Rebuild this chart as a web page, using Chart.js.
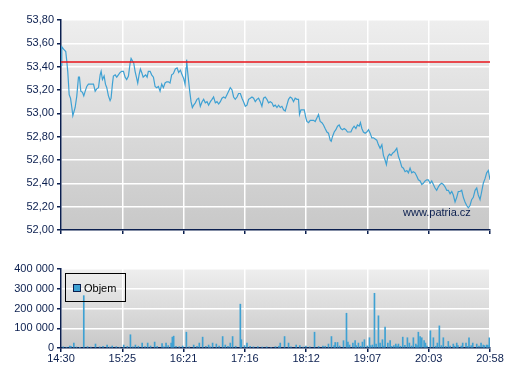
<!DOCTYPE html>
<html><head><meta charset="utf-8">
<script src="https://cdn.jsdelivr.net/npm/chart.js@4/dist/chart.umd.min.js"></script>
<style>
html,body{margin:0;padding:0;background:#ffffff;}
#wrap{position:relative;width:507px;height:380px;overflow:hidden;background:#ffffff;}
#c1{position:absolute;left:0;top:0;}
#c2{position:absolute;left:0;top:250px;}
</style></head><body>
<div id="wrap"><canvas id="c1" width="507" height="250"></canvas><canvas id="c2" width="507" height="130"></canvas></div>
<script>
// ---- data ----
const tickLabels = ["14:30","15:25","16:21","17:16","18:12","19:07","20:03","20:58"];
const sessionMinutes = 388; // 14:30 -> 20:58
const prevClose = 53.44;
const watermark = "www.patria.cz";
const legendLabel = "Objem";

const priceMinutes = [0,0.7,2.3,4.3,5.2,6.1,7.4,8.6,9.8,10.7,11.9,12.8,14.3,15.8,16.7,17.9,19.4,20.6,21.9,23.3,24.8,27.8,29.4,30.9,32.3,33.9,35.4,36.3,37.5,39.0,40.2,41.4,42.9,44.4,45.3,46.5,47.4,49.0,50.4,51.9,53.5,54.9,56.5,58.0,59.4,61.0,62.5,63.4,64.6,65.8,67.0,68.2,69.4,70.6,71.8,73.0,74.3,75.4,76.6,77.9,79.0,80.6,82.0,83.6,85.1,86.5,88.1,89.6,91.1,92.6,94.1,95.6,97.1,98.6,100.1,101.6,103.4,105.0,106.4,108.0,109.5,110.9,112.2,113.1,113.6,114.5,115.5,116.4,117.6,118.8,120.0,121.5,123.0,124.5,126.0,127.6,129.0,130.5,132.1,133.5,135.1,136.6,138.0,139.6,141.1,142.6,144.1,145.6,147.1,148.6,150.1,151.6,153.1,154.7,156.1,157.6,159.2,160.6,162.2,163.7,165.1,166.7,168.2,169.7,171.2,172.7,174.2,175.7,177.2,178.7,180.2,181.7,183.2,184.7,186.2,187.7,189.3,190.8,192.2,193.8,195.3,196.8,198.3,199.8,201.3,202.8,204.3,205.8,207.3,208.8,210.3,211.8,213.4,214.8,215.7,217.0,218.4,220.0,221.5,222.4,223.9,225.4,226.9,228.4,229.9,231.4,232.9,234.4,236.0,237.4,238.9,240.5,241.9,243.5,244.4,245.5,247.1,248.6,250.1,251.6,253.1,254.6,256.1,257.6,259.1,260.6,262.2,263.6,265.1,266.7,268.1,269.7,270.8,272.1,273.5,275.1,276.6,278.1,279.6,281.1,282.6,284.1,285.6,287.1,288.6,290.2,291.6,293.1,294.3,295.6,297.0,298.6,300.1,301.5,303.7,305.2,306.7,308.2,309.7,311.2,312.8,314.2,315.7,317.2,318.7,320.2,321.8,323.2,324.8,326.3,327.7,329.3,330.8,332.2,333.8,335.3,336.8,338.3,339.8,341.3,342.8,344.3,345.8,347.3,348.9,350.3,351.9,353.4,354.8,356.4,357.9,359.3,360.9,362.4,363.9,365.4,366.9,368.4,369.9,371.4,372.9,374.5,376.0,377.4,379.0,380.5,381.9,383.5,385.0,386.5,388.0];
const prices = [53.41,53.57,53.55,53.53,53.45,53.36,53.16,53.13,53.05,52.98,53.02,53.05,53.15,53.31,53.31,53.19,53.18,53.15,53.19,53.23,53.25,53.25,53.25,53.19,53.21,53.22,53.33,53.36,53.29,53.32,53.25,53.22,53.15,53.11,53.13,53.25,53.32,53.33,53.31,53.33,53.35,53.36,53.36,53.31,53.29,53.32,53.43,53.47,53.45,53.43,53.36,53.31,53.26,53.33,53.38,53.35,53.31,53.32,53.33,53.31,53.36,53.36,53.33,53.31,53.23,53.22,53.23,53.19,53.25,53.22,53.26,53.27,53.27,53.26,53.33,53.34,53.38,53.39,53.35,53.37,53.33,53.30,53.25,53.39,53.46,53.36,53.27,53.19,53.10,53.05,53.07,53.09,53.12,53.13,53.06,53.10,53.12,53.09,53.10,53.07,53.10,53.12,53.14,53.09,53.10,53.08,53.10,53.13,53.14,53.13,53.16,53.19,53.22,53.20,53.14,53.12,53.14,53.17,53.17,53.13,53.10,53.06,53.07,53.12,53.13,53.14,53.13,53.10,53.12,53.13,53.10,53.06,53.13,53.14,53.12,53.09,53.10,53.09,53.06,53.07,53.05,53.07,53.05,53.06,53.03,53.02,53.07,53.12,53.14,53.13,53.10,53.13,53.12,53.12,52.99,53.03,53.03,53.03,52.96,52.93,52.92,52.94,52.94,52.94,52.93,52.96,52.99,52.93,52.92,52.90,52.87,52.84,52.83,52.77,52.76,52.80,52.84,52.86,52.89,52.90,52.87,52.86,52.87,52.86,52.84,52.84,52.84,52.87,52.89,52.87,52.90,52.89,52.92,52.87,52.84,52.83,52.84,52.86,52.83,52.79,52.79,52.78,52.77,52.73,52.70,52.73,52.64,52.60,52.56,52.63,52.65,52.64,52.66,52.67,52.70,52.63,52.59,52.54,52.53,52.50,52.51,52.49,52.53,52.49,52.50,52.49,52.46,52.43,52.42,52.39,52.40,52.42,52.43,52.43,52.40,52.42,52.39,52.36,52.34,52.37,52.39,52.40,52.39,52.37,52.34,52.34,52.31,52.33,52.30,52.24,52.28,52.33,52.33,52.34,52.28,52.24,52.21,52.19,52.21,52.26,52.28,52.34,52.36,52.30,52.26,52.33,52.40,52.44,52.49,52.51,52.43];

const volumeMinutes = [7.9,11.6,20.6,31.2,41.7,46.3,56.7,62.8,67.3,73.4,78.4,84.7,91.4,95.0,99.6,100.7,101.9,113.4,120.0,125.1,128.1,133.5,137.1,140.5,146.2,148.6,153.1,155.2,162.2,163.1,168.2,198.3,202.2,205.8,212.7,221.5,229.3,236.9,241.9,244.6,248.0,250.1,255.5,258.2,259.5,264.0,266.0,269.0,272.6,274.4,279.0,281.7,283.5,285.0,287.1,288.6,290.7,293.1,295.6,297.7,302.8,305.2,309.1,313.3,315.1,318.7,320.9,323.2,324.8,326.3,328.4,329.6,334.1,336.8,340.4,342.2,345.8,350.3,354.8,357.9,363.3,366.3,369.0,372.4,376.0,379.9,381.9,385.0,387.4,
  2,5,9,14,17,24,27,35,38,44,50,53,60,65,70,76,81,87,93,97,104,107,110,116,123,131,135,143,151,158,166,171,174,178,182,186,190,194,197,208,216,219,225,233,239,247,252,261,267,271,277,280,292,299,301,304,307,311,317,322,331,339,344,348,352,356,359,362,368,371,378,383,386];
const volumes = [10000,25000,265000,20000,15000,10000,15000,67000,15000,25000,25000,30000,22000,25000,25000,55000,60000,80000,15000,25000,55000,15000,25000,20000,58000,15000,25000,58000,222000,42000,25000,25000,58000,25000,15000,10000,80000,10000,20000,58000,28000,28000,37000,176000,30000,25000,37000,25000,30000,42000,52000,15000,277000,20000,163000,25000,42000,106000,25000,37000,20000,20000,55000,52000,25000,52000,20000,80000,58000,52000,37000,25000,87000,52000,25000,112000,52000,33000,20000,25000,25000,25000,52000,25000,20000,25000,15000,15000,52000,
  6000,4000,8000,5000,3000,7000,5000,6000,9000,5000,7000,4000,8000,6000,9000,7000,10000,8000,6000,12000,9000,7000,10000,6000,8000,9000,6000,10000,8000,9000,12000,8000,6000,7000,5000,6000,4000,7000,9000,6000,12000,5000,6000,8000,9000,12000,10000,15000,12000,9000,10000,12000,10000,8000,12000,10000,9000,14000,10000,12000,10000,9000,12000,8000,10000,9000,12000,10000,9000,12000,10000,12000,14000];

// ---- styling ----
const NAVY = '#0b1f4f';
const BLUE = '#3ea1d3';
const FONT = {family:'Liberation Sans, Arial, sans-serif', size:11};

const bgPlugin = {
  id:'bgGrad',
  beforeDraw(chart){
    const {ctx, chartArea:a} = chart;
    const g = ctx.createLinearGradient(0,a.top,0,a.bottom);
    g.addColorStop(0,'#eeeeee');
    g.addColorStop(1,'#c8c8c8');
    ctx.save();
    ctx.fillStyle = g;
    ctx.fillRect(a.left,a.top,a.right-a.left,a.bottom-a.top);
    ctx.restore();
  }
};

function timeTicks(scale){
  scale.ticks = tickLabels.map((t,i)=>({value: i*sessionMinutes/(tickLabels.length-1)}));
}
const gridOpts = {color:'#ffffff', lineWidth:1.5, tickColor:NAVY, tickLength:4, drawTicks:true};
const borderOpts = {color:NAVY, width:1.5};

// ---- price chart ----
new Chart(document.getElementById('c1'), {
  type:'line',
  data:{datasets:[
    {data: priceMinutes.map((m,i)=>({x:m, y:prices[i]})), borderColor:BLUE, borderWidth:1.2, pointRadius:0, tension:0, order:2},
    {data: [{x:0,y:prevClose},{x:sessionMinutes,y:prevClose}], borderColor:'#e8141b', borderWidth:1.5, pointRadius:0, order:1}
  ]},
  options:{
    responsive:false, animation:false,
    layout:{padding:{left:0,right:17,top:20,bottom:0}},
    plugins:{legend:{display:false}, tooltip:{enabled:false}},
    scales:{
      x:{type:'linear', min:0, max:sessionMinutes, afterBuildTicks:timeTicks,
         ticks:{display:false}, grid:gridOpts, border:borderOpts,
         afterFit:s=>{s.height=20;}},
      y:{min:52, max:53.8,
         ticks:{stepSize:0.2, color:NAVY, font:FONT, padding:3,
                callback:v=>Number(v).toFixed(2).replace('.',',')},
         grid:gridOpts, border:borderOpts,
         afterFit:s=>{s.width=61;}}
    }
  },
  plugins:[bgPlugin, {
    id:'wm',
    afterDraw(chart){
      const ctx = chart.ctx;
      ctx.save();
      ctx.font = '11px "Liberation Sans", Arial, sans-serif';
      ctx.fillStyle = NAVY;
      ctx.textBaseline = 'middle';
      ctx.textAlign = 'left';
      ctx.fillText(watermark, 403, 213);
      ctx.restore();
    }
  }]
});

// ---- volume chart ----
const volPoints = volumeMinutes.map((m,i)=>({x:m, y:volumes[i]})).sort((a,b)=>a.x-b.x);
new Chart(document.getElementById('c2'), {
  type:'bar',
  data:{datasets:[{label:legendLabel, data:volPoints, backgroundColor:BLUE, borderWidth:0, barThickness:1}]},
  options:{
    responsive:false, animation:false,
    layout:{padding:{left:0,right:17,top:19,bottom:0}},
    plugins:{legend:{display:false}, tooltip:{enabled:false}},
    scales:{
      x:{type:'linear', min:0, max:sessionMinutes, offset:false, afterBuildTicks:timeTicks,
         ticks:{color:NAVY, font:FONT, autoSkip:false, maxRotation:0, padding:0,
                callback:(v,i)=>tickLabels[i]},
         grid:Object.assign({offset:false}, gridOpts), border:borderOpts,
         afterFit:s=>{s.height=32;}},
      y:{min:0, max:400000,
         ticks:{stepSize:100000, color:NAVY, font:FONT, padding:3,
                callback:v=>String(v).replace(/\B(?=(\d{3})+(?!\d))/g,' ')},
         grid:gridOpts, border:borderOpts,
         afterFit:s=>{s.width=61;}}
    }
  },
  plugins:[bgPlugin, {
    id:'legendBox',
    afterDraw(chart){
      const ctx = chart.ctx;
      ctx.save();
      ctx.strokeStyle = '#000000';
      ctx.lineWidth = 1;
      ctx.strokeRect(65.5, 23.5, 60, 28);
      ctx.fillStyle = BLUE;
      ctx.fillRect(73.5, 34.5, 7, 7);
      ctx.strokeStyle = '#0b1f4f';
      ctx.strokeRect(73.5, 34.5, 7, 7);
      ctx.fillStyle = '#000000';
      ctx.font = '11px "Liberation Sans", Arial, sans-serif';
      ctx.textBaseline = 'middle';
      ctx.textAlign = 'left';
      ctx.fillText(legendLabel, 84, 38.5);
      ctx.restore();
    }
  }]
});
</script>
</body></html>
